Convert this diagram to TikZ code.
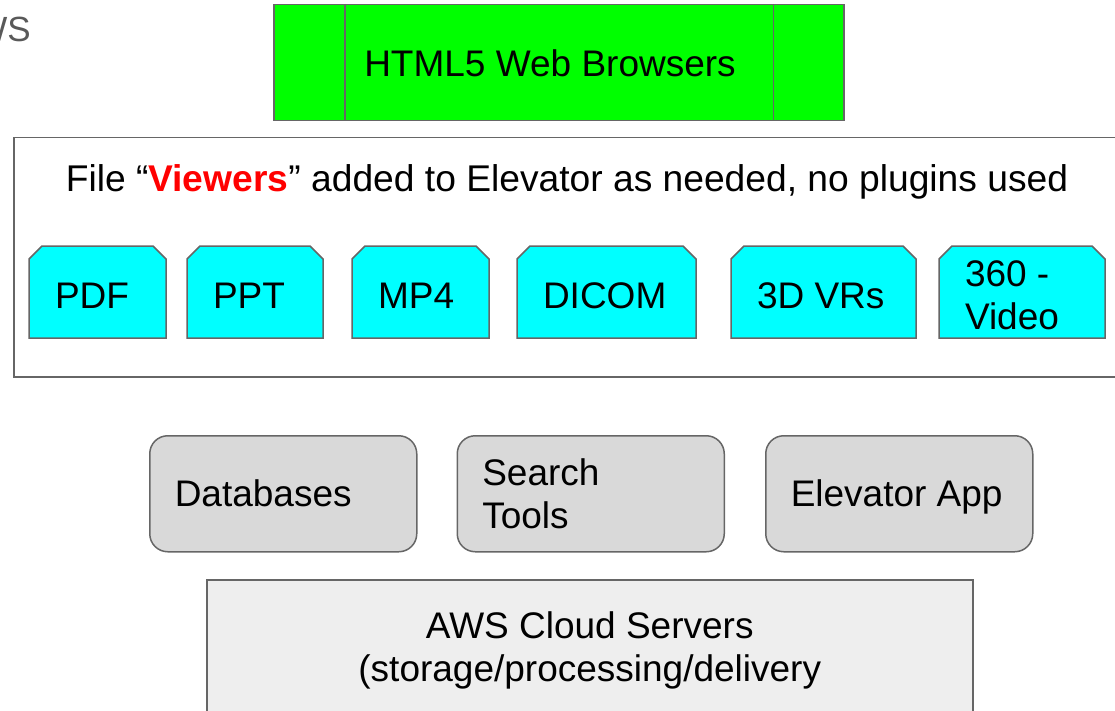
\documentclass[tikz,border=0pt]{standalone}
\usepackage{fontspec}
\setmainfont{Liberation Sans}
\usepackage{xcolor}
\definecolor{elgreen}{HTML}{00FF00}
\definecolor{elcyan}{HTML}{00FFFF}
\definecolor{elline}{HTML}{666666}
\definecolor{elgray}{HTML}{D9D9D9}
\definecolor{ellight}{HTML}{EEEEEE}
\definecolor{eltext}{HTML}{595959}
\usetikzlibrary{positioning, backgrounds}

\begin{document}
\begin{tikzpicture}[
    x=1pt, y=-1pt,
    font=\fontsize{37}{43}\selectfont,
    box/.style={draw=elline, line width=1.5pt},
    viewer/.style={outer sep=0pt, minimum height=92pt, inner xsep=26pt, inner ysep=0pt,
        align=flush left, anchor=north west,
        execute at begin node=\rule[-4pt]{0pt}{40.5pt}, execute at end node=\rule[-4pt]{0pt}{40.5pt}},
    viewerframe/.style={box, fill=elcyan},
    service/.style={box, rounded corners=18pt, fill=elgray, minimum height=116pt,
        text width=217pt, inner xsep=25pt, inner ysep=0pt, align=flush left,
        execute at begin node=\rule[-8.5pt]{0pt}{43pt}, execute at end node=\rule[-8.5pt]{0pt}{43pt}},
]
\useasboundingbox (0,0) rectangle (1115,711);
\clip (0,0) rectangle (1115,711);

\node[text=eltext, anchor=base east, inner sep=0pt, font=\fontsize{35}{42}\selectfont] (corner) at (31,42) {AWS};

% browsers on top
\node[box, fill=elgreen, minimum width=570pt, minimum height=116pt, anchor=north west] (browsers) at (273,4) {};
\draw[box] ([xshift=72pt]browsers.north west) -- ([xshift=72pt]browsers.south west);
\draw[box] ([xshift=-71pt]browsers.north east) -- ([xshift=-71pt]browsers.south east);
\node (browserslabel) at (550,63) {HTML5 Web Browsers};

% viewers
\node[box, minimum width=1110pt, minimum height=239pt, anchor=north west] (viewers) at (13,137) {};
\node[anchor=base, font=\fontsize{37.2}{43}\selectfont] (title) at (567,192) {File “\textcolor{red}{\textbf{Viewers}}” added to Elevator as needed, no plugins used};
\foreach \x/\w/\txt/\nm [evaluate=\w as \tw using \w-52] in {29/137/PDF/pdf, 187/136/PPT/ppt, 352/137/MP4/mpfour,
    517/179/DICOM/dicom, 731/185/3D VRs/vrs, 939/166/360 -\\Video/video}
{
  \node[viewer, minimum width=\w pt, text width=\tw pt] (\nm) at (\x,246) {\txt};
  \begin{scope}[on background layer]
    \draw[viewerframe] (\nm.south west) -- ([yshift=-13pt]\nm.north west) -- ([xshift=13pt]\nm.north west)
      -- ([xshift=-13pt]\nm.north east) -- ([yshift=-13pt]\nm.north east) -- (\nm.south east) -- cycle;
  \end{scope}
}

% services
\node[service, anchor=north west] (db) at (149,435) {Databases};
\node[service, right=39pt of db] (search) {Search\\Tools};
\node[service, right=40pt of search] (app) {Elevator App};

\node[box, fill=ellight, minimum width=766pt, minimum height=142pt, anchor=north west, align=center] (aws) at (206,579) {AWS Cloud Servers\\(storage/processing/delivery};
\end{tikzpicture}
\end{document}
